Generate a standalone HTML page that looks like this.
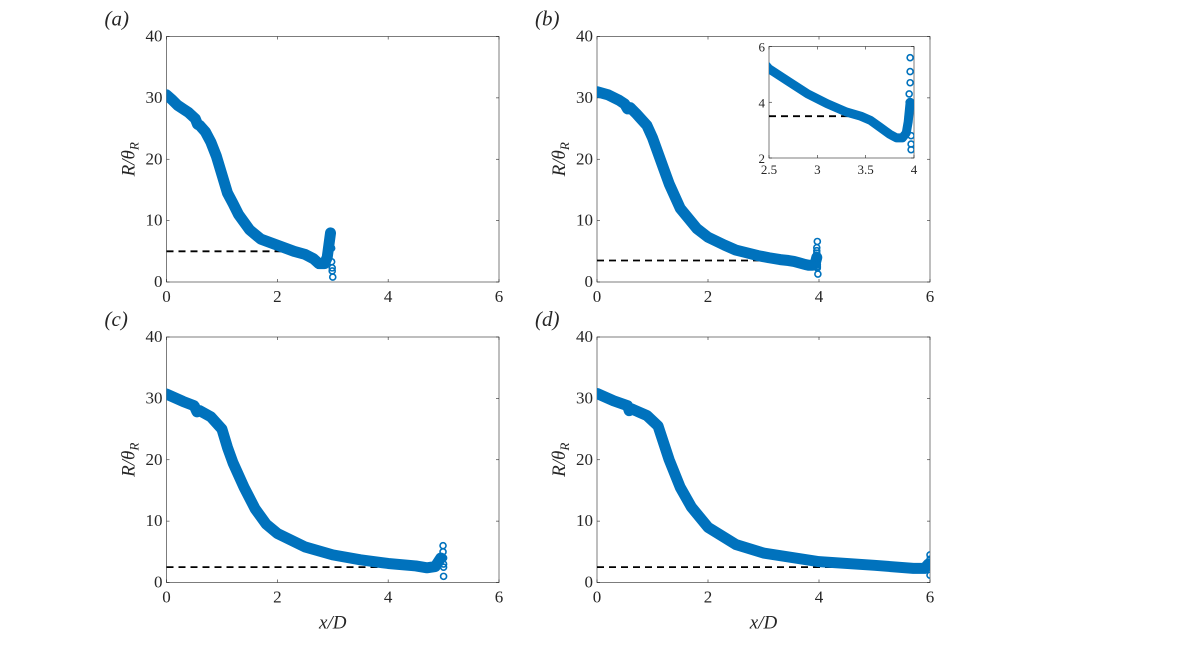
<!DOCTYPE html>
<html><head><meta charset="utf-8"><style>
html,body{margin:0;padding:0;background:#fff}
svg text{font-family:"Liberation Serif",serif;fill:#262626}
</style></head><body>
<svg id="fig" width="1196" height="665" xmlns="http://www.w3.org/2000/svg"></svg>
<script>
const xTicks=[0,2,4,6];
const yTicks=[0,10,20,30,40];
const aX=[0,0.1,0.2,0.3,0.4,0.52,0.56,0.6,0.7,0.8,0.9,1.0,1.1,1.2,1.3,1.5,1.7,2.0,2.3,2.5,2.65,2.75,2.85,2.9,2.93,2.96];
const aY=[30.5,29.7,28.8,28.2,27.6,26.6,25.7,25.5,24.5,22.8,20.5,17.5,14.5,12.8,11,8.5,7,6,5,4.5,3.8,3,3,4,6,8];
const aOX=[2.98,2.98,2.99,2.99,3.0];const aOY=[5.5,3.3,2.3,1.8,0.8];
const bX=[0,0.2,0.4,0.5,0.55,0.6,0.7,0.9,1.0,1.1,1.2,1.3,1.5,1.8,2.0,2.3,2.5,2.7,2.9,3.1,3.3,3.45,3.55,3.65,3.75,3.82,3.88,3.92,3.94,3.96];
const bY=[31,30.5,29.6,29,28.2,28.4,27.5,25.5,23.5,21,18.5,16,12,8.7,7.3,6,5.2,4.75,4.3,3.95,3.65,3.5,3.35,3.1,2.85,2.72,2.72,2.9,3.3,4];
const bOX=[3.97,3.96,3.96,3.96,3.95,3.95,3.95,3.94,3.97,3.97,3.97,3.98];const bOY=[6.6,5.6,5.1,4.7,4.3,4.0,3.7,3.5,2.8,2.5,2.3,1.3];
const cX=[0,0.3,0.5,0.55,0.6,0.8,1.0,1.1,1.2,1.4,1.6,1.8,2.0,2.5,3.0,3.5,4.0,4.5,4.7,4.85,4.95];
const cY=[30.7,29.5,28.8,27.8,28,27,25,22,19.5,15.5,12,9.5,8,5.8,4.5,3.7,3.1,2.7,2.4,2.6,4];
const cOX=[4.99,4.99,5.0,5.0,5.0,5.0];const cOY=[6,5,4,3,2.5,1];
const dX=[0,0.3,0.55,0.58,0.62,0.9,1.1,1.3,1.5,1.7,2.0,2.5,3.0,4.0,5.0,5.7,5.9,5.97];
const dY=[30.8,29.6,28.8,28,28.3,27.2,25.5,20,15.5,12.3,9,6.2,4.8,3.4,2.8,2.3,2.3,3];
const dOX=[6.0,6.0,6.0,6.0];const dOY=[4.5,3.8,3.0,1.2];
const refY=[5,3.5,2.5,2.5];const refEnd=[2.5,3.5,4.6,5.5];
const insetXT=[2.5,3,3.5,4];const insetYT=[2,4,6];

const NS="http://www.w3.org/2000/svg";const svg=document.getElementById('fig');
function el(t,a,p){const e=document.createElementNS(NS,t);for(const k in a)e.setAttribute(k,a[k]);(p||svg).appendChild(e);return e;}
function panel(name,x0,x1,yTop,yBot,xd,yd,ox,oy,ry,re,lab,xlabel,xr,yr,lw,r,isInset){
 const g=el('g',{});
 
 
 const sx=v=>x0+(v-xr[0])/(xr[1]-xr[0])*(x1-x0), sy=v=>yBot-(v-yr[0])/(yr[1]-yr[0])*(yBot-yTop);
 const ax=el('rect',{x:x0,y:yTop,width:x1-x0,height:yBot-yTop,fill:'#fff',stroke:'#262626','stroke-width':0.6},g);
 
 const xt=isInset?insetXT:xTicks, yt=isInset?insetYT:yTicks;
 xt.forEach(v=>{el('line',{x1:sx(v),x2:sx(v),y1:yBot,y2:yBot-3,stroke:'#262626','stroke-width':0.6},g);el('line',{x1:sx(v),x2:sx(v),y1:yTop,y2:yTop+3,stroke:'#262626','stroke-width':0.6},g);
  const t=el('text',{x:sx(v),y:yBot+(isInset?16:20),'text-anchor':'middle','font-size':isInset?13:17},g);t.textContent=v;});
 yt.forEach(v=>{el('line',{x1:x0,x2:x0+3,y1:sy(v),y2:sy(v),stroke:'#262626','stroke-width':0.6},g);el('line',{x1:x1,x2:x1-3,y1:sy(v),y2:sy(v),stroke:'#262626','stroke-width':0.6},g);
  const t=el('text',{x:x0-4,y:sy(v)+5,'text-anchor':'end','font-size':isInset?13:17},g);t.textContent=v;});
 const cl='clip'+name;const cp=el('clipPath',{id:cl},g);el('rect',{x:x0,y:yTop,width:x1-x0,height:yBot-yTop},cp);
 const pg=el('g',{'clip-path':`url(#${cl})`},g);
 const dl=el('line',{x1:sx(xr[0]),x2:sx(re),y1:sy(ry),y2:sy(ry),stroke:'#000','stroke-width':1.8,'stroke-dasharray':'7,5'},pg);
 
 const pl=el('polyline',{points:xd.map((v,i)=>sx(v)+','+sy(yd[i])).join(' '),fill:'none',stroke:'#0072BD','stroke-width':lw,'stroke-linejoin':'round','stroke-linecap':'round'},pg);
 
 ox.forEach((v,i)=>{const c=el('circle',{cx:sx(v),cy:sy(oy[i]),r:r,fill:'none',stroke:'#0072BD','stroke-width':1.6},pg);});
 if(lab){const t=el('text',{x:x0-62,y:yTop-11,'font-size':21,'font-style':'italic'},g);t.textContent=lab;}
 if(!isInset){const t=el('text',{transform:`translate(${x0-32},${(yTop+yBot)/2}) rotate(-90)`,'text-anchor':'middle','font-size':19,'font-style':'italic'},g);
  
  t.appendChild(document.createTextNode('R/θ'));const s=el('tspan',{'font-size':13,dy:4},t);s.textContent='R';}
 if(xlabel){const t=el('text',{x:(x0+x1)/2,y:yBot+46,'text-anchor':'middle','font-size':19,'font-style':'italic'},g);t.textContent='x/D';}
}
panel('panel-a',166.5,499,36.5,282,aX,aY,aOX,aOY,refY[0],refEnd[0],'(a)',false,[0,6],[0,40],11,3,false);
panel('panel-b',597,930,36.5,282,bX,bY,bOX,bOY,refY[1],refEnd[1],'(b)',false,[0,6],[0,40],11,3,false);
panel('panel-c',166.5,499,337,582.5,cX,cY,cOX,cOY,refY[2],refEnd[2],'(c)',true,[0,6],[0,40],11,3,false);
panel('panel-d',597,930,337,582.5,dX,dY,dOX,dOY,refY[3],refEnd[3],'(d)',true,[0,6],[0,40],11,3,false);
panel('inset-b',769,914,46.5,158,bX,bY,bOX,bOY,refY[1],refEnd[1],null,false,[2.5,4],[2,6],9,3,true);
</script>
</body></html>
